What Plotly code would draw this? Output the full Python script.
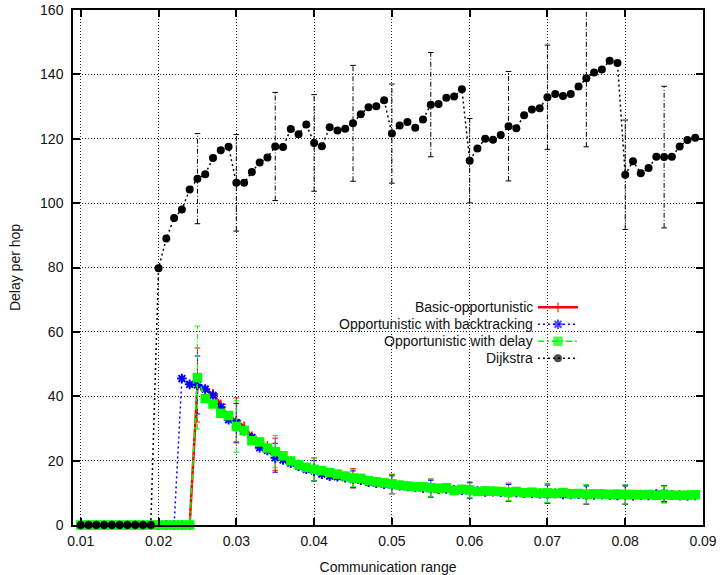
import plotly.graph_objects as go

# Communication range (x) shared by every series
comm_range = [
    0.010, 0.011, 0.012, 0.013, 0.014, 0.015, 0.016, 0.017, 0.018, 0.019,
    0.020, 0.021, 0.022, 0.023, 0.024, 0.025, 0.026, 0.027, 0.028, 0.029,
    0.030, 0.031, 0.032, 0.033, 0.034, 0.035, 0.036, 0.037, 0.038, 0.039,
    0.040, 0.041, 0.042, 0.043, 0.044, 0.045, 0.046, 0.047, 0.048, 0.049,
    0.050, 0.051, 0.052, 0.053, 0.054, 0.055, 0.056, 0.057, 0.058, 0.059,
    0.060, 0.061, 0.062, 0.063, 0.064, 0.065, 0.066, 0.067, 0.068, 0.069,
    0.070, 0.071, 0.072, 0.073, 0.074, 0.075, 0.076, 0.077, 0.078, 0.079,
    0.080, 0.081, 0.082, 0.083, 0.084, 0.085, 0.086, 0.087, 0.088, 0.089,
]

basic_opportunistic = [
    0, 0, 0, 0, 0, 0, 0, 0, 0, 0,
    0, 0, 0, 0, 0, 43.5, 42.0, 40.8, 37.5, 33.5,
    32.5, 30.6, 27.5, 25.5, 24.5, 22.0, 21.0, 19.8, 18.8, 17.8,
    17.3, 16.5, 15.9, 15.4, 15.0, 14.5, 14.2, 13.6, 13.2, 12.9,
    12.7, 12.3, 12.1, 11.8, 11.7, 11.5, 11.3, 11.4, 10.9, 11.0,
    10.8, 10.5, 10.5, 10.4, 10.3, 10.2, 10.2, 10.0, 10.0, 9.8,
    9.8, 9.8, 9.8, 9.6, 9.7, 9.5, 9.5, 9.5, 9.4, 9.4,
    9.4, 9.3, 9.4, 9.3, 9.4, 9.5, 9.3, 9.2, 9.2, 9.3,
]

with_backtracking = [
    0, 0, 0, 0, 0, 0, 0, 0, 0, 0,
    0, 0, 0, 45.5, 43.7, 43.5, 42.2, 40.3, 36.6, 32.7,
    31.8, 29.3, 27.2, 24.0, 23.2, 20.9, 20.2, 19.2, 18.3, 17.3,
    16.8, 15.8, 15.2, 15.0, 14.7, 14.2, 13.9, 13.3, 13.0, 12.7,
    12.5, 12.2, 12.0, 11.8, 11.5, 11.3, 11.1, 11.2, 10.8, 10.8,
    10.7, 10.5, 10.3, 10.4, 10.2, 10.0, 10.1, 9.9, 9.9, 9.7,
    9.6, 9.8, 9.5, 9.5, 9.6, 9.3, 9.4, 9.5, 9.3, 9.2,
    9.3, 9.1, 9.3, 9.2, 9.6, 9.8, 9.3, 9.2, 9.1, 9.2,
]

with_delay = [
    0, 0, 0, 0, 0, 0, 0, 0, 0, 0,
    0, 0, 0, 0, 0, 45.8, 39.3, 37.6, 34.7, 34.0,
    30.6, 29.3, 26.2, 25.8, 23.9, 22.8, 21.5, 19.9, 18.7, 17.9,
    17.3, 16.9, 16.3, 15.8, 15.2, 14.6, 14.5, 13.8, 13.4, 13.1,
    12.8, 12.4, 12.1, 11.9, 11.9, 11.6, 11.4, 11.6, 10.7, 11.1,
    10.9, 10.4, 10.6, 10.5, 10.4, 10.2, 10.4, 10.0, 10.2, 9.9,
    10.0, 9.8, 10.1, 9.7, 9.8, 9.6, 9.7, 9.6, 9.5, 9.6,
    9.5, 9.5, 9.4, 9.5, 9.2, 9.5, 9.3, 9.2, 9.3, 9.4,
]

dijkstra = [
    0, 0, 0, 0, 0, 0, 0, 0, 0, 0,
    79.8, 89.0, 95.4, 98.0, 104.2, 107.6, 109.0, 114.0, 116.4, 117.5,
    106.3, 106.3, 109.7, 112.6, 114.2, 117.6, 117.4, 123.0, 121.4, 124.4,
    118.7, 117.7, 123.6, 122.6, 123.1, 124.8, 127.6, 129.8, 130.1, 132.0,
    121.6, 124.1, 125.2, 123.4, 126.0, 130.6, 130.8, 132.7, 133.1, 135.4,
    113.2, 117.0, 120.0, 119.7, 121.2, 123.9, 123.3, 127.3, 129.1, 129.5,
    132.9, 133.9, 133.3, 133.9, 136.2, 138.8, 140.6, 141.5, 144.2, 143.5,
    108.8, 113.0, 109.3, 110.9, 114.4, 114.3, 114.4, 117.6, 119.6, 120.3,
]

# Error bars are reported every 0.005
err_range = [0.025, 0.030, 0.035, 0.040, 0.045, 0.050, 0.055,
             0.060, 0.065, 0.070, 0.075, 0.080, 0.085]
basic_err = [11.5, 7.0, 5.0, 3.5, 3.0, 3.0, 2.8, 2.5, 2.8, 3.0, 3.0, 3.0, 2.6]
backtracking_err = [9.0, 6.0, 4.5, 3.2, 2.6, 2.8, 2.6, 2.4, 2.6, 2.8, 2.8, 2.8, 2.5]
delay_err = [16.0, 8.0, 5.0, 3.6, 2.7, 3.0, 2.7, 2.5, 2.7, 3.0, 3.0, 3.0, 2.6]
dijkstra_err = [14.0, 15.0, 16.8, 15.0, 18.0, 15.4, 16.2, 13.1, 17.0, 16.2, 21.3, 17.0, 22.0]

x_ticks = [0.01, 0.02, 0.03, 0.04, 0.05, 0.06, 0.07, 0.08, 0.09]
x_tick_text = ["0.01", "0.02", "0.03", "0.04", "0.05", "0.06", "0.07", "0.08", "0.09"]
y_ticks = [0, 20, 40, 60, 80, 100, 120, 140, 160]

series_names = ["Basic-opportunistic", "Opportunistic with backtracking",
                "Opportunistic with delay", "Dijkstra"]

FONT = "Liberation Sans, Arial, sans-serif"
TEXT_COLOR = "#111111"

styles = [
    dict(color="#ff0000", dash="solid", width=2.5,
         marker=dict(symbol="cross-thin-open", size=7, line=dict(color="#ff0000", width=1.5))),
    dict(color="#0000ff", dash="2px,3px", width=1.5,
         marker=dict(symbol="asterisk-open", size=8, line=dict(color="#0000ff", width=2))),
    dict(color="#00ff00", dash="6px,3px,2px,3px", width=1.5,
         marker=dict(symbol="square", size=9.5, color="#00ff00", line=dict(width=0))),
    dict(color="#000000", dash="2px,3px", width=1.5,
         marker=dict(symbol="circle", size=8, color="#000000", line=dict(width=0))),
]
err_dash = ["solid", "2px,2px", "5px,2px,1px,2px", "5px,2px,1px,2px"]

fig = go.Figure()


def error_path(values, errs):
    xs, ys = [], []
    for xe, e in zip(err_range, errs):
        i = comm_range.index(xe)
        y = values[i]
        xs += [xe, xe, None]
        ys += [y - e, y + e, None]
    return xs, ys


all_values = [basic_opportunistic, with_backtracking, with_delay, dijkstra]
all_errs = [basic_err, backtracking_err, delay_err, dijkstra_err]

for name, vals, errs, st, edash in zip(series_names, all_values, all_errs, styles, err_dash):
    fig.add_trace(go.Scatter(
        x=comm_range, y=vals, mode="lines+markers", name=name,
        line=dict(color=st["color"], dash=st["dash"], width=st["width"]),
        marker=st["marker"], showlegend=False, cliponaxis=False,
    ))
    ex, ey = error_path(vals, errs)
    fig.add_trace(go.Scatter(
        x=ex, y=ey, mode="lines+markers", showlegend=False, hoverinfo="skip",
        line=dict(color=st["color"], dash=edash, width=1),
        marker=dict(symbol="line-ew-open", size=4,
                    line=dict(color=st["color"], width=1)),
        connectgaps=False,
    ))

# Hand-built key: right-aligned labels with the sample line to their right
key_rows = [0.4227, 0.3897, 0.3567, 0.3237]
key_text_x = 0.7333
key_line_x = [0.738, 0.7698, 0.8016]
for name, st, ry in zip(series_names, styles, key_rows):
    m = dict(st["marker"])
    m["size"] = [0, st["marker"]["size"], 0]
    fig.add_trace(go.Scatter(
        x=key_line_x, y=[ry, ry, ry], xaxis="x2", yaxis="y2",
        mode="lines+markers", showlegend=False, hoverinfo="skip",
        line=dict(color=st["color"], dash=st["dash"], width=st["width"]),
        marker=m,
    ))
    fig.add_annotation(
        x=key_text_x, y=ry, xref="paper", yref="paper",
        text=name, showarrow=False, xanchor="right", yanchor="middle",
        font=dict(family=FONT, size=14, color=TEXT_COLOR),
    )

# Opaque key background hides the grid behind it
fig.add_shape(type="rect", xref="paper", yref="paper",
              x0=0.3095, x1=0.8143, y0=0.3068, y1=0.4369,
              fillcolor="white", line=dict(width=0), layer="between")

axis_common = dict(
    showline=True, linecolor="#000000", linewidth=1.5, mirror="allticks",
    ticks="inside", ticklen=7, tickwidth=1.5, tickcolor="#000000",
    showgrid=True, gridcolor="#222222", gridwidth=1, griddash="1px,2px",
    zeroline=False, automargin=False,
    tickfont=dict(family=FONT, size=14, color=TEXT_COLOR),
)

fig.update_layout(
    width=720, height=575,
    margin=dict(l=73, r=17, t=10, b=50),
    paper_bgcolor="white", plot_bgcolor="white",
    showlegend=False,
    xaxis=dict(
        range=[0.009, 0.09], tickvals=x_ticks, ticktext=x_tick_text,
        title=dict(text="Communication range", font=dict(family=FONT, size=14, color=TEXT_COLOR), standoff=19),
        ticklabelstandoff=2,
        **axis_common,
    ),
    yaxis=dict(
        range=[0, 160], tickvals=y_ticks,
        title=dict(text="Delay per hop", font=dict(family=FONT, size=14, color=TEXT_COLOR), standoff=16),
        ticklabelstandoff=5,
        **axis_common,
    ),
    xaxis2=dict(overlaying="x", range=[0, 1], visible=False),
    yaxis2=dict(overlaying="y", range=[0, 1], visible=False),
)

fig.write_html("out.html")
